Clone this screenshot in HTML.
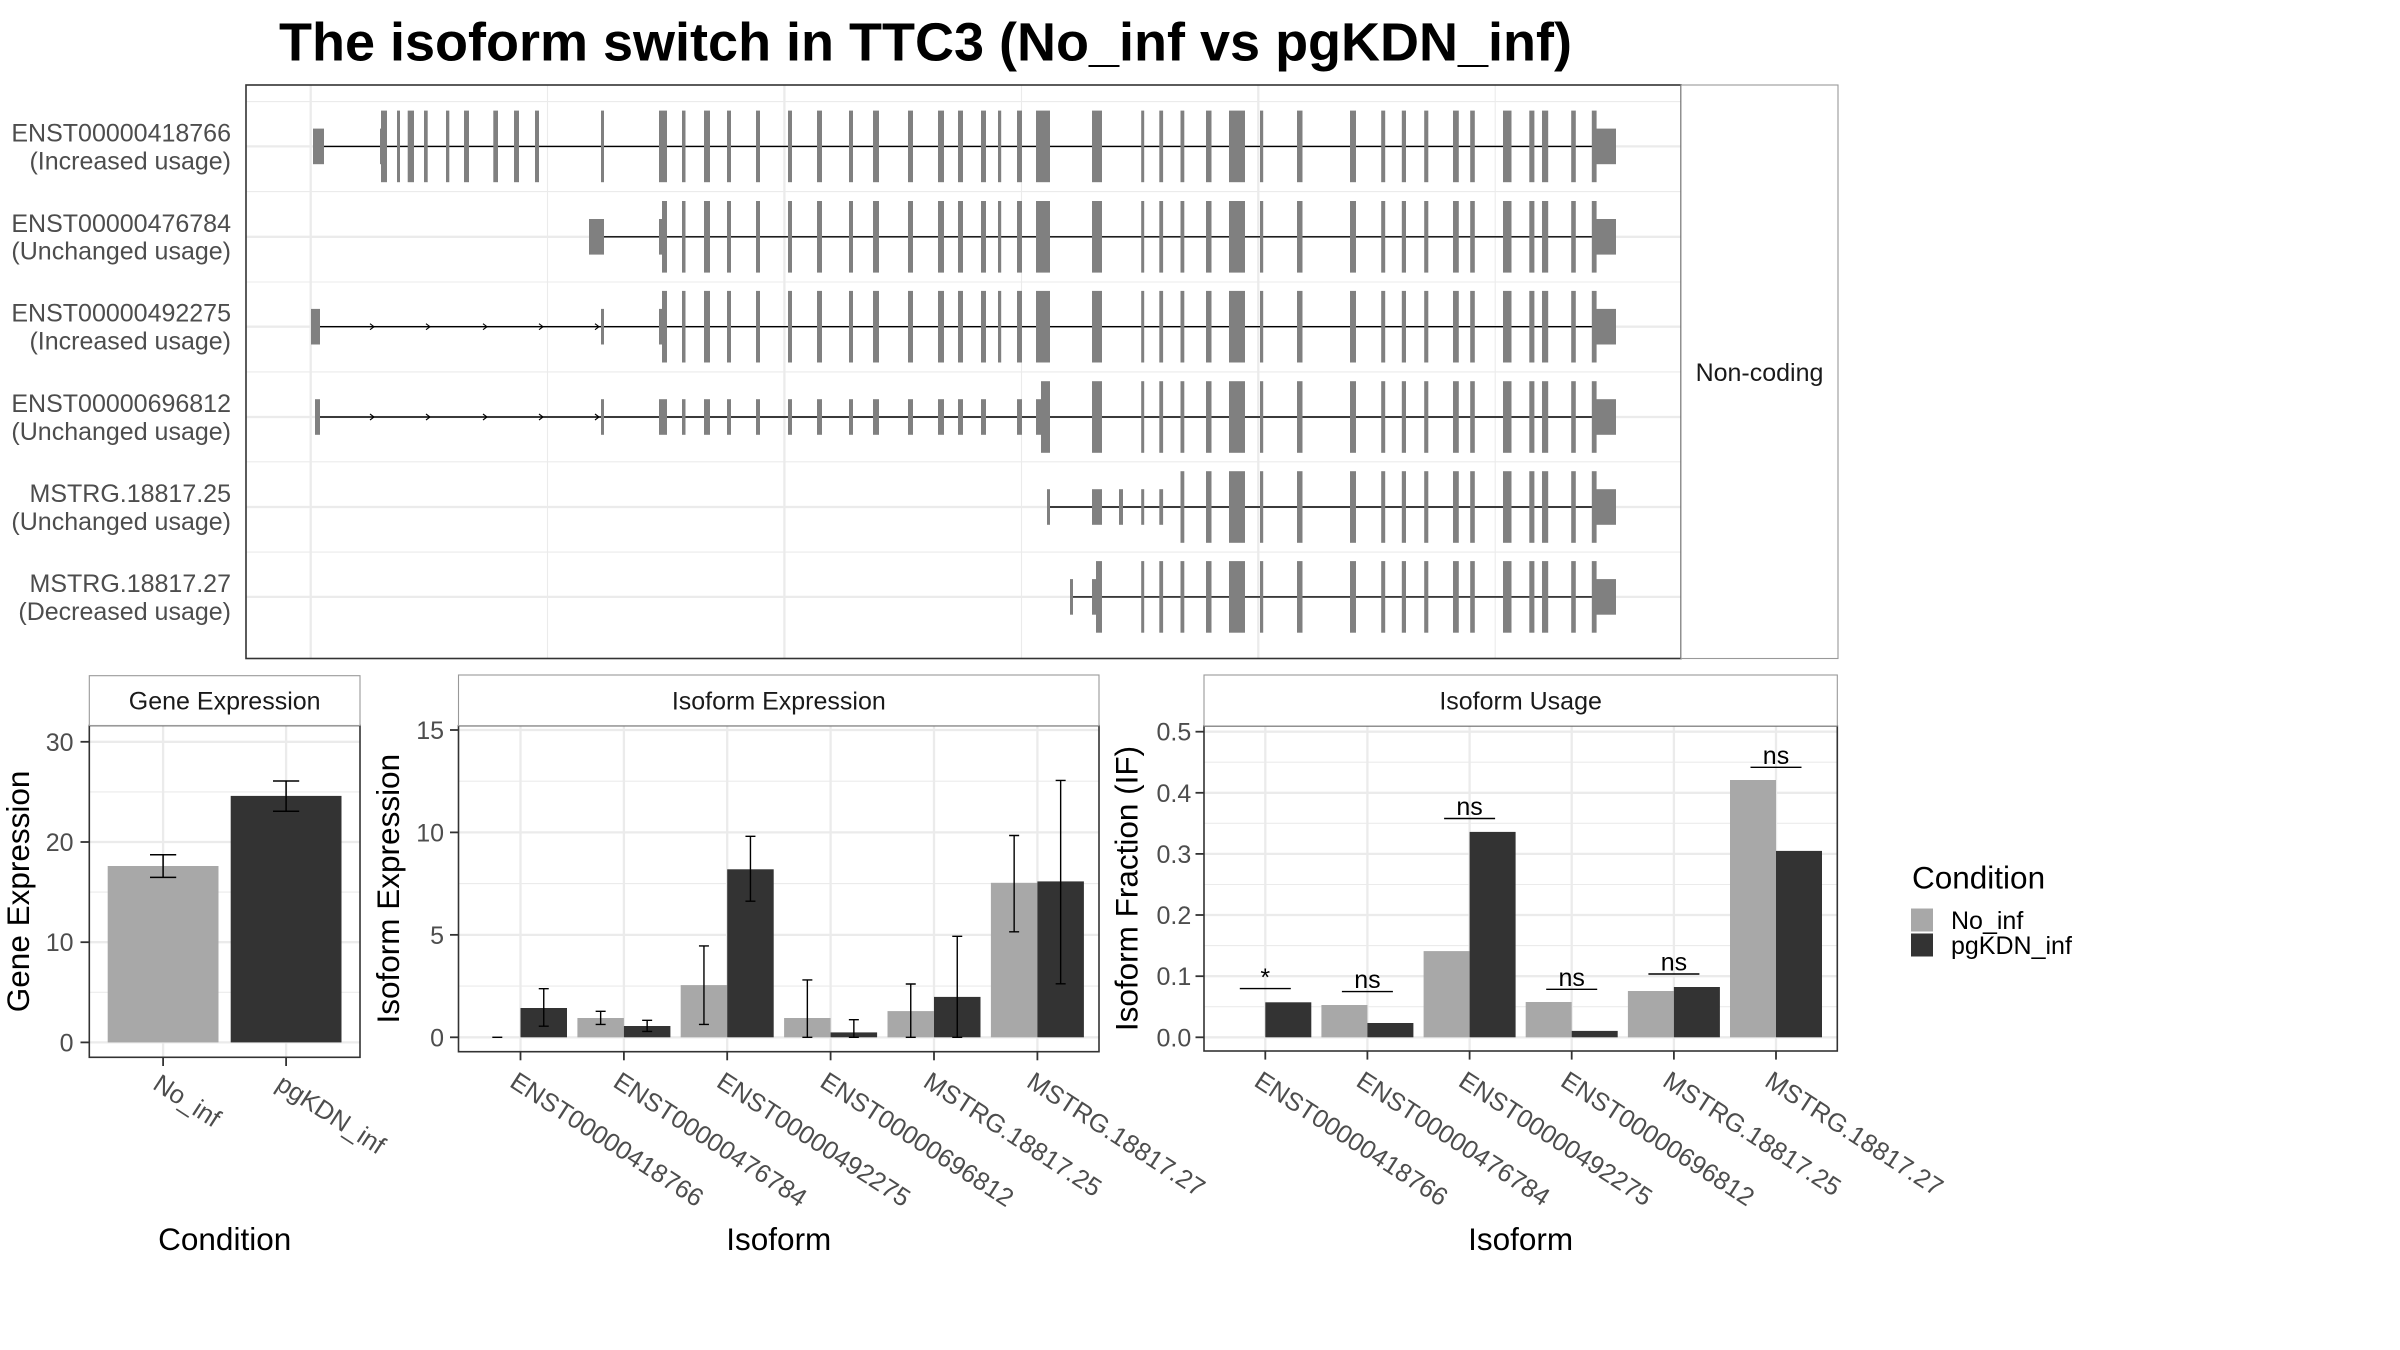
<!DOCTYPE html>
<html>
<head>
<meta charset="utf-8">
<style>
html,body{margin:0;padding:0;background:#fff;}
svg{display:block;}
text{font-family:"Liberation Sans",Arial,sans-serif;}
</style>
</head>
<body>
<svg xmlns="http://www.w3.org/2000/svg" width="2400" height="1350" viewBox="0 0 2400 1350">
<defs>
  <g id="tail">
    <rect x="1180.5" y="-35.8" width="3.8" height="71.6"/>
    <rect x="1206" y="-35.8" width="5.5" height="71.6"/>
    <rect x="1229" y="-35.8" width="16" height="71.6"/>
    <rect x="1260" y="-35.8" width="3.2" height="71.6"/>
    <rect x="1297" y="-35.8" width="5.5" height="71.6"/>
    <rect x="1350" y="-35.8" width="6" height="71.6"/>
    <rect x="1381.2" y="-35.8" width="4" height="71.6"/>
    <rect x="1401.8" y="-35.8" width="4.2" height="71.6"/>
    <rect x="1424.2" y="-35.8" width="4.1" height="71.6"/>
    <rect x="1453" y="-35.8" width="5.8" height="71.6"/>
    <rect x="1470.2" y="-35.8" width="4.6" height="71.6"/>
    <rect x="1503" y="-35.8" width="8.5" height="71.6"/>
    <rect x="1529.3" y="-35.8" width="5.1" height="71.6"/>
    <rect x="1542" y="-35.8" width="6.2" height="71.6"/>
    <rect x="1571.2" y="-35.8" width="4.6" height="71.6"/>
    <rect x="1591.8" y="-35.8" width="4.8" height="71.6"/>
    <rect x="1596.4" y="-17.8" width="19.6" height="35.6"/>
  </g>
  <g id="midT">
    <rect x="682" y="-35.8" width="3.5" height="71.6"/>
    <rect x="704" y="-35.8" width="6" height="71.6"/>
    <rect x="727" y="-35.8" width="4" height="71.6"/>
    <rect x="756" y="-35.8" width="4" height="71.6"/>
    <rect x="788" y="-35.8" width="4" height="71.6"/>
    <rect x="817" y="-35.8" width="5" height="71.6"/>
    <rect x="849" y="-35.8" width="4" height="71.6"/>
    <rect x="873" y="-35.8" width="6" height="71.6"/>
    <rect x="908" y="-35.8" width="5" height="71.6"/>
    <rect x="938" y="-35.8" width="6" height="71.6"/>
    <rect x="958" y="-35.8" width="5" height="71.6"/>
    <rect x="981" y="-35.8" width="5" height="71.6"/>
    <rect x="998" y="-35.8" width="3.2" height="71.6"/>
    <rect x="1017" y="-35.8" width="5" height="71.6"/>
    <rect x="1036" y="-35.8" width="14" height="71.6"/>
    <rect x="1092" y="-35.8" width="10" height="71.6"/>
    <rect x="1141.2" y="-35.8" width="3" height="71.6"/>
    <rect x="1159.3" y="-35.8" width="3.8" height="71.6"/>
  </g>
  <g id="arrows" fill="none" stroke="#000" stroke-width="1.1">
    <polyline points="370,-3 374,0 370,3"/>
    <polyline points="426,-3 430,0 426,3"/>
    <polyline points="483,-3 487,0 483,3"/>
    <polyline points="539,-3 543,0 539,3"/>
    <polyline points="595,-3 599,0 595,3"/>
  </g>
</defs>

<!-- Title -->
<text x="279" y="60.7" font-size="54" font-weight="bold" fill="#000" textLength="1293" lengthAdjust="spacingAndGlyphs">The isoform switch in TTC3 (No_inf vs pgKDN_inf)</text>

<!-- ================= TOP PANEL ================= -->
<rect x="246" y="85" width="1435" height="573.5" fill="#fff"/>
<g stroke="#EBEBEB">
  <g stroke-width="1.1">
    <line x1="246" x2="1681" y1="101.6" y2="101.6"/>
    <line x1="246" x2="1681" y1="191.6" y2="191.6"/>
    <line x1="246" x2="1681" y1="282" y2="282"/>
    <line x1="246" x2="1681" y1="371.9" y2="371.9"/>
    <line x1="246" x2="1681" y1="461.8" y2="461.8"/>
    <line x1="246" x2="1681" y1="552.1" y2="552.1"/>
    <line x1="547.5" x2="547.5" y1="85" y2="658.5"/>
    <line x1="1021.5" x2="1021.5" y1="85" y2="658.5"/>
    <line x1="1495.2" x2="1495.2" y1="85" y2="658.5"/>
  </g>
  <g stroke-width="2.3">
    <line x1="246" x2="1681" y1="146.4" y2="146.4"/>
    <line x1="246" x2="1681" y1="236.8" y2="236.8"/>
    <line x1="246" x2="1681" y1="326.7" y2="326.7"/>
    <line x1="246" x2="1681" y1="417" y2="417"/>
    <line x1="246" x2="1681" y1="507" y2="507"/>
    <line x1="246" x2="1681" y1="596.9" y2="596.9"/>
    <line x1="310.7" x2="310.7" y1="85" y2="658.5"/>
    <line x1="784.4" x2="784.4" y1="85" y2="658.5"/>
    <line x1="1258.3" x2="1258.3" y1="85" y2="658.5"/>
  </g>
</g>

<!-- Row 1 -->
<g transform="translate(0,146.4)" fill="#808080">
  <line x1="324" x2="1592" y1="0" y2="0" stroke="#000" stroke-width="1.4"/>
  <rect x="313" y="-17.8" width="11" height="35.6"/>
  <rect x="380" y="-17.8" width="2" height="35.6"/>
  <rect x="381" y="-35.8" width="6" height="71.6"/>
  <rect x="397" y="-35.8" width="3" height="71.6"/>
  <rect x="407.7" y="-35.8" width="6.3" height="71.6"/>
  <rect x="424" y="-35.8" width="3.7" height="71.6"/>
  <rect x="446" y="-35.8" width="3.3" height="71.6"/>
  <rect x="464" y="-35.8" width="5" height="71.6"/>
  <rect x="493.3" y="-35.8" width="4.7" height="71.6"/>
  <rect x="514" y="-35.8" width="5" height="71.6"/>
  <rect x="535" y="-35.8" width="4" height="71.6"/>
  <rect x="601" y="-35.8" width="3" height="71.6"/>
  <rect x="659" y="-35.8" width="8" height="71.6"/>
  <use href="#midT"/>
  <use href="#tail"/>
</g>
<!-- Row 2 -->
<g transform="translate(0,236.8)" fill="#808080">
  <line x1="604" x2="1592" y1="0" y2="0" stroke="#000" stroke-width="1.4"/>
  <rect x="589" y="-17.8" width="15" height="35.6"/>
  <rect x="659" y="-17.8" width="3.5" height="35.6"/>
  <rect x="662" y="-35.8" width="5" height="71.6"/>
  <use href="#midT"/>
  <use href="#tail"/>
</g>
<!-- Row 3 -->
<g transform="translate(0,326.7)" fill="#808080">
  <line x1="320" x2="1592" y1="0" y2="0" stroke="#000" stroke-width="1.4"/>
  <use href="#arrows"/>
  <rect x="311" y="-17.8" width="9" height="35.6"/>
  <rect x="601" y="-17.8" width="3" height="35.6"/>
  <rect x="659" y="-17.8" width="3.5" height="35.6"/>
  <rect x="662" y="-35.8" width="5" height="71.6"/>
  <use href="#midT"/>
  <use href="#tail"/>
</g>
<!-- Row 4 -->
<g transform="translate(0,417)" fill="#808080">
  <line x1="320" x2="1592" y1="0" y2="0" stroke="#000" stroke-width="1.4"/>
  <use href="#arrows"/>
  <rect x="315" y="-17.8" width="5" height="35.6"/>
  <rect x="601" y="-17.8" width="3" height="35.6"/>
  <rect x="659" y="-17.8" width="8" height="35.6"/>
  <rect x="682" y="-17.8" width="3.5" height="35.6"/>
  <rect x="704" y="-17.8" width="6" height="35.6"/>
  <rect x="727" y="-17.8" width="4" height="35.6"/>
  <rect x="756" y="-17.8" width="4" height="35.6"/>
  <rect x="788" y="-17.8" width="4" height="35.6"/>
  <rect x="817" y="-17.8" width="5" height="35.6"/>
  <rect x="849" y="-17.8" width="4" height="35.6"/>
  <rect x="873" y="-17.8" width="6" height="35.6"/>
  <rect x="908" y="-17.8" width="5" height="35.6"/>
  <rect x="938" y="-17.8" width="6" height="35.6"/>
  <rect x="958" y="-17.8" width="5" height="35.6"/>
  <rect x="981" y="-17.8" width="5" height="35.6"/>
  <rect x="1017" y="-17.8" width="5" height="35.6"/>
  <rect x="1036" y="-17.8" width="5.5" height="35.6"/>
  <rect x="1041" y="-35.8" width="9" height="71.6"/>
  <rect x="1092" y="-35.8" width="10" height="71.6"/>
  <rect x="1141.2" y="-35.8" width="3" height="71.6"/>
  <rect x="1159.3" y="-35.8" width="3.8" height="71.6"/>
  <use href="#tail"/>
</g>
<!-- Row 5 -->
<g transform="translate(0,507)" fill="#808080">
  <line x1="1050" x2="1592" y1="0" y2="0" stroke="#000" stroke-width="1.4"/>
  <rect x="1047" y="-17.8" width="3" height="35.6"/>
  <rect x="1092" y="-17.8" width="10" height="35.6"/>
  <rect x="1119" y="-17.8" width="4" height="35.6"/>
  <rect x="1141.2" y="-17.8" width="3" height="35.6"/>
  <rect x="1159.3" y="-17.8" width="3.8" height="35.6"/>
  <use href="#tail"/>
</g>
<!-- Row 6 -->
<g transform="translate(0,596.9)" fill="#808080">
  <line x1="1073" x2="1592" y1="0" y2="0" stroke="#000" stroke-width="1.4"/>
  <rect x="1070" y="-17.8" width="3" height="35.6"/>
  <rect x="1092" y="-17.8" width="4.5" height="35.6"/>
  <rect x="1096" y="-35.8" width="6" height="71.6"/>
  <rect x="1141.2" y="-35.8" width="3" height="71.6"/>
  <rect x="1159.3" y="-35.8" width="3.8" height="71.6"/>
  <use href="#tail"/>
</g>

<rect x="246" y="85" width="1435" height="573.5" fill="none" stroke="#333" stroke-width="1.6"/>
<rect x="1681" y="85" width="157" height="573.5" fill="#fff" stroke="#999" stroke-width="1.1"/>
<text x="1759.5" y="381" font-size="25" fill="#1A1A1A" text-anchor="middle">Non-coding</text>

<!-- top y labels -->
<g font-size="25" fill="#4D4D4D" text-anchor="end">
  <text x="231" y="141.7">ENST00000418766</text>
  <text x="231" y="169.3">(Increased usage)</text>
  <text x="231" y="231.8">ENST00000476784</text>
  <text x="231" y="259.7">(Unchanged usage)</text>
  <text x="231" y="321.7">ENST00000492275</text>
  <text x="231" y="349.6">(Increased usage)</text>
  <text x="231" y="412">ENST00000696812</text>
  <text x="231" y="439.9">(Unchanged usage)</text>
  <text x="231" y="502">MSTRG.18817.25</text>
  <text x="231" y="529.9">(Unchanged usage)</text>
  <text x="231" y="591.9">MSTRG.18817.27</text>
  <text x="231" y="619.8">(Decreased usage)</text>
</g>

<!-- ================= GENE EXPRESSION ================= -->
<rect x="89.3" y="725.5" width="270.7" height="331.8" fill="#fff"/>
<g stroke="#EBEBEB">
  <g stroke-width="1.1">
    <line x1="89.3" x2="360" y1="992.3" y2="992.3"/>
    <line x1="89.3" x2="360" y1="892.1" y2="892.1"/>
    <line x1="89.3" x2="360" y1="791.9" y2="791.9"/>
  </g>
  <g stroke-width="2.3">
    <line x1="89.3" x2="360" y1="1042.4" y2="1042.4"/>
    <line x1="89.3" x2="360" y1="942.2" y2="942.2"/>
    <line x1="89.3" x2="360" y1="842" y2="842"/>
    <line x1="89.3" x2="360" y1="741.8" y2="741.8"/>
    <line x1="163.1" x2="163.1" y1="725.5" y2="1057.3"/>
    <line x1="286.1" x2="286.1" y1="725.5" y2="1057.3"/>
  </g>
</g>
<rect x="107.7" y="866" width="110.8" height="176.4" fill="#A8A8A8"/>
<rect x="230.7" y="795.9" width="110.8" height="246.5" fill="#333"/>
<g stroke="#000" stroke-width="1.5" fill="none">
  <path d="M163.1 854.8V877.4M150 854.8H176.2M150 877.4H176.2"/>
  <path d="M286.1 781V811.2M273 781H299.2M273 811.2H299.2"/>
</g>
<rect x="89.3" y="725.5" width="270.7" height="331.8" fill="none" stroke="#333" stroke-width="1.6"/>
<rect x="89.3" y="675.7" width="270.7" height="49.8" fill="#fff" stroke="#999" stroke-width="1.1"/>
<text x="224.7" y="709.6" font-size="25" fill="#1A1A1A" text-anchor="middle">Gene Expression</text>
<g stroke="#333" stroke-width="1.8">
  <line x1="80.5" x2="89.3" y1="1042.4" y2="1042.4"/>
  <line x1="80.5" x2="89.3" y1="942.2" y2="942.2"/>
  <line x1="80.5" x2="89.3" y1="842" y2="842"/>
  <line x1="80.5" x2="89.3" y1="741.8" y2="741.8"/>
  <line x1="163.1" x2="163.1" y1="1057.3" y2="1066"/>
  <line x1="286.1" x2="286.1" y1="1057.3" y2="1066"/>
</g>
<g font-size="25" fill="#4D4D4D" text-anchor="end">
  <text x="73.5" y="1051.4">0</text>
  <text x="73.5" y="951.2">10</text>
  <text x="73.5" y="851">20</text>
  <text x="73.5" y="750.8">30</text>
</g>
<g font-size="25.5" fill="#4D4D4D">
  <text transform="translate(151.5,1088) rotate(33)">No_inf</text>
  <text transform="translate(274.5,1088) rotate(33)">pgKDN_inf</text>
</g>
<text transform="translate(29,891.4) rotate(-90)" font-size="31.5" fill="#000" text-anchor="middle">Gene Expression</text>
<text x="224.7" y="1250" font-size="31.5" fill="#000" text-anchor="middle">Condition</text>

<!-- ================= ISOFORM EXPRESSION ================= -->
<rect x="458.5" y="725.7" width="640.5" height="326" fill="#fff"/>
<g stroke="#EBEBEB">
  <g stroke-width="1.1">
    <line x1="458.5" x2="1099" y1="986.1" y2="986.1"/>
    <line x1="458.5" x2="1099" y1="883.6" y2="883.6"/>
    <line x1="458.5" x2="1099" y1="781.2" y2="781.2"/>
  </g>
  <g stroke-width="2.3">
    <line x1="458.5" x2="1099" y1="1037.3" y2="1037.3"/>
    <line x1="458.5" x2="1099" y1="934.85" y2="934.85"/>
    <line x1="458.5" x2="1099" y1="832.4" y2="832.4"/>
    <line x1="458.5" x2="1099" y1="730" y2="730"/>
    <line x1="520.5" x2="520.5" y1="725.7" y2="1051.7"/>
    <line x1="623.9" x2="623.9" y1="725.7" y2="1051.7"/>
    <line x1="727.2" x2="727.2" y1="725.7" y2="1051.7"/>
    <line x1="830.6" x2="830.6" y1="725.7" y2="1051.7"/>
    <line x1="934" x2="934" y1="725.7" y2="1051.7"/>
    <line x1="1037.4" x2="1037.4" y1="725.7" y2="1051.7"/>
  </g>
</g>
<g fill="#A8A8A8">
  <rect x="577.4" y="1018" width="46.5" height="19.3"/>
  <rect x="680.7" y="985.1" width="46.5" height="52.2"/>
  <rect x="784.1" y="1018" width="46.5" height="19.3"/>
  <rect x="887.5" y="1011.1" width="46.5" height="26.2"/>
  <rect x="990.9" y="882.8" width="46.5" height="154.5"/>
</g>
<g fill="#333">
  <rect x="520.5" y="1008" width="46.5" height="29.3"/>
  <rect x="623.9" y="1026" width="46.5" height="11.3"/>
  <rect x="727.2" y="869.3" width="46.5" height="168"/>
  <rect x="830.6" y="1032.4" width="46.5" height="4.9"/>
  <rect x="934" y="996.9" width="46.5" height="40.4"/>
  <rect x="1037.4" y="881.4" width="46.5" height="155.9"/>
</g>
<g stroke="#000" stroke-width="1.4" fill="none">
  <path d="M492.3 1037.3H502.3"/>
  <path d="M543.75 988.7V1026.2M538.75 988.7H548.75M538.75 1026.2H548.75"/>
  <path d="M600.65 1011.3V1024.4M595.65 1011.3H605.65M595.65 1024.4H605.65"/>
  <path d="M647.15 1020.3V1031.4M642.15 1020.3H652.15M642.15 1031.4H652.15"/>
  <path d="M703.95 945.9V1024.4M698.95 945.9H708.95M698.95 1024.4H708.95"/>
  <path d="M750.45 836.3V901.2M745.45 836.3H755.45M745.45 901.2H755.45"/>
  <path d="M807.35 979.9V1037.3M802.35 979.9H812.35M802.35 1037.3H812.35"/>
  <path d="M853.85 1019.7V1037.3M848.85 1019.7H858.85M848.85 1037.3H858.85"/>
  <path d="M910.75 984V1037.3M905.75 984H915.75M905.75 1037.3H915.75"/>
  <path d="M957.25 936.3V1037.3M952.25 936.3H962.25M952.25 1037.3H962.25"/>
  <path d="M1014.15 835.5V931.8M1009.15 835.5H1019.15M1009.15 931.8H1019.15"/>
  <path d="M1060.65 780.4V983.8M1055.65 780.4H1065.65M1055.65 983.8H1065.65"/>
</g>
<rect x="458.5" y="725.7" width="640.5" height="326" fill="none" stroke="#333" stroke-width="1.6"/>
<rect x="458.5" y="675" width="640.5" height="50.7" fill="#fff" stroke="#999" stroke-width="1.1"/>
<text x="778.8" y="709.3" font-size="25" fill="#1A1A1A" text-anchor="middle">Isoform Expression</text>
<g stroke="#333" stroke-width="1.8">
  <line x1="450" x2="458.5" y1="1037.3" y2="1037.3"/>
  <line x1="450" x2="458.5" y1="934.85" y2="934.85"/>
  <line x1="450" x2="458.5" y1="832.4" y2="832.4"/>
  <line x1="450" x2="458.5" y1="730" y2="730"/>
  <line x1="520.5" x2="520.5" y1="1051.7" y2="1060.3"/>
  <line x1="623.9" x2="623.9" y1="1051.7" y2="1060.3"/>
  <line x1="727.2" x2="727.2" y1="1051.7" y2="1060.3"/>
  <line x1="830.6" x2="830.6" y1="1051.7" y2="1060.3"/>
  <line x1="934" x2="934" y1="1051.7" y2="1060.3"/>
  <line x1="1037.4" x2="1037.4" y1="1051.7" y2="1060.3"/>
</g>
<g font-size="25" fill="#4D4D4D" text-anchor="end">
  <text x="444" y="1046.3">0</text>
  <text x="444" y="943.85">5</text>
  <text x="444" y="841.4">10</text>
  <text x="444" y="739">15</text>
</g>
<g font-size="25.5" fill="#4D4D4D">
  <text transform="translate(508.4,1085.7) rotate(33)">ENST00000418766</text>
  <text transform="translate(611.8,1085.7) rotate(33)">ENST00000476784</text>
  <text transform="translate(715.1,1085.7) rotate(33)">ENST00000492275</text>
  <text transform="translate(818.5,1085.7) rotate(33)">ENST00000696812</text>
  <text transform="translate(921.9,1085.7) rotate(33)">MSTRG.18817.25</text>
  <text transform="translate(1025.3,1085.7) rotate(33)">MSTRG.18817.27</text>
</g>
<text transform="translate(399,888.7) rotate(-90)" font-size="31.5" fill="#000" text-anchor="middle">Isoform Expression</text>
<text x="778.8" y="1250" font-size="31.5" fill="#000" text-anchor="middle">Isoform</text>

<!-- ================= ISOFORM USAGE ================= -->
<rect x="1204" y="726" width="633.3" height="325" fill="#fff"/>
<g stroke="#EBEBEB">
  <g stroke-width="1.1">
    <line x1="1204" x2="1837.3" y1="1006.7" y2="1006.7"/>
    <line x1="1204" x2="1837.3" y1="945.6" y2="945.6"/>
    <line x1="1204" x2="1837.3" y1="884.5" y2="884.5"/>
    <line x1="1204" x2="1837.3" y1="823.3" y2="823.3"/>
    <line x1="1204" x2="1837.3" y1="762.2" y2="762.2"/>
  </g>
  <g stroke-width="2.3">
    <line x1="1204" x2="1837.3" y1="1037.3" y2="1037.3"/>
    <line x1="1204" x2="1837.3" y1="976.2" y2="976.2"/>
    <line x1="1204" x2="1837.3" y1="915" y2="915"/>
    <line x1="1204" x2="1837.3" y1="853.9" y2="853.9"/>
    <line x1="1204" x2="1837.3" y1="792.8" y2="792.8"/>
    <line x1="1204" x2="1837.3" y1="731.7" y2="731.7"/>
    <line x1="1265.3" x2="1265.3" y1="726" y2="1051"/>
    <line x1="1367.4" x2="1367.4" y1="726" y2="1051"/>
    <line x1="1469.6" x2="1469.6" y1="726" y2="1051"/>
    <line x1="1571.7" x2="1571.7" y1="726" y2="1051"/>
    <line x1="1673.9" x2="1673.9" y1="726" y2="1051"/>
    <line x1="1776" x2="1776" y1="726" y2="1051"/>
  </g>
</g>
<g fill="#A8A8A8">
  <rect x="1321.4" y="1005" width="46" height="32.3"/>
  <rect x="1423.6" y="951.1" width="46" height="86.2"/>
  <rect x="1525.7" y="1002" width="46" height="35.3"/>
  <rect x="1627.9" y="991" width="46" height="46.3"/>
  <rect x="1730" y="780" width="46" height="257.3"/>
</g>
<g fill="#333">
  <rect x="1265.3" y="1002.3" width="46" height="35"/>
  <rect x="1367.4" y="1023" width="46" height="14.3"/>
  <rect x="1469.6" y="831.9" width="46" height="205.4"/>
  <rect x="1571.7" y="1030.9" width="46" height="6.4"/>
  <rect x="1673.9" y="987" width="46" height="50.3"/>
  <rect x="1776" y="850.9" width="46" height="186.4"/>
</g>
<g stroke="#000" stroke-width="1.4">
  <line x1="1239.8" x2="1290.8" y1="988.6" y2="988.6"/>
  <line x1="1341.9" x2="1392.9" y1="991.6" y2="991.6"/>
  <line x1="1444.1" x2="1495.1" y1="818.5" y2="818.5"/>
  <line x1="1546.2" x2="1597.2" y1="989.3" y2="989.3"/>
  <line x1="1648.4" x2="1699.4" y1="974" y2="974"/>
  <line x1="1750.5" x2="1801.5" y1="767.3" y2="767.3"/>
</g>
<g font-size="25" fill="#000" text-anchor="middle">
  <text x="1265.3" y="986">*</text>
  <text x="1367.4" y="988">ns</text>
  <text x="1469.6" y="815">ns</text>
  <text x="1571.7" y="985.8">ns</text>
  <text x="1673.9" y="970.5">ns</text>
  <text x="1776" y="763.8">ns</text>
</g>
<rect x="1204" y="726" width="633.3" height="325" fill="none" stroke="#333" stroke-width="1.6"/>
<rect x="1204" y="675" width="633.3" height="51" fill="#fff" stroke="#999" stroke-width="1.1"/>
<text x="1520.6" y="709.5" font-size="25" fill="#1A1A1A" text-anchor="middle">Isoform Usage</text>
<g stroke="#333" stroke-width="1.8">
  <line x1="1195.5" x2="1204" y1="1037.3" y2="1037.3"/>
  <line x1="1195.5" x2="1204" y1="976.2" y2="976.2"/>
  <line x1="1195.5" x2="1204" y1="915" y2="915"/>
  <line x1="1195.5" x2="1204" y1="853.9" y2="853.9"/>
  <line x1="1195.5" x2="1204" y1="792.8" y2="792.8"/>
  <line x1="1195.5" x2="1204" y1="731.7" y2="731.7"/>
  <line x1="1265.3" x2="1265.3" y1="1051" y2="1059.6"/>
  <line x1="1367.4" x2="1367.4" y1="1051" y2="1059.6"/>
  <line x1="1469.6" x2="1469.6" y1="1051" y2="1059.6"/>
  <line x1="1571.7" x2="1571.7" y1="1051" y2="1059.6"/>
  <line x1="1673.9" x2="1673.9" y1="1051" y2="1059.6"/>
  <line x1="1776" x2="1776" y1="1051" y2="1059.6"/>
</g>
<g font-size="25" fill="#4D4D4D" text-anchor="end">
  <text x="1191.3" y="1046.3">0.0</text>
  <text x="1191.3" y="985.2">0.1</text>
  <text x="1191.3" y="924">0.2</text>
  <text x="1191.3" y="862.9">0.3</text>
  <text x="1191.3" y="801.8">0.4</text>
  <text x="1191.3" y="740.7">0.5</text>
</g>
<g font-size="25.5" fill="#4D4D4D">
  <text transform="translate(1252.7,1085) rotate(33)">ENST00000418766</text>
  <text transform="translate(1354.8,1085) rotate(33)">ENST00000476784</text>
  <text transform="translate(1457,1085) rotate(33)">ENST00000492275</text>
  <text transform="translate(1559.1,1085) rotate(33)">ENST00000696812</text>
  <text transform="translate(1661.3,1085) rotate(33)">MSTRG.18817.25</text>
  <text transform="translate(1763.4,1085) rotate(33)">MSTRG.18817.27</text>
</g>
<text transform="translate(1137.5,888.5) rotate(-90)" font-size="31.5" fill="#000" text-anchor="middle">Isoform Fraction (IF)</text>
<text x="1520.6" y="1250" font-size="31.5" fill="#000" text-anchor="middle">Isoform</text>

<!-- ================= LEGEND ================= -->
<text x="1912" y="888.5" font-size="31.5" fill="#000">Condition</text>
<rect x="1911" y="908.5" width="22" height="23" fill="#A8A8A8"/>
<rect x="1911" y="933.5" width="22" height="23" fill="#333"/>
<g font-size="25" fill="#000">
  <text x="1951" y="929">No_inf</text>
  <text x="1951" y="954">pgKDN_inf</text>
</g>
</svg>
</body>
</html>
